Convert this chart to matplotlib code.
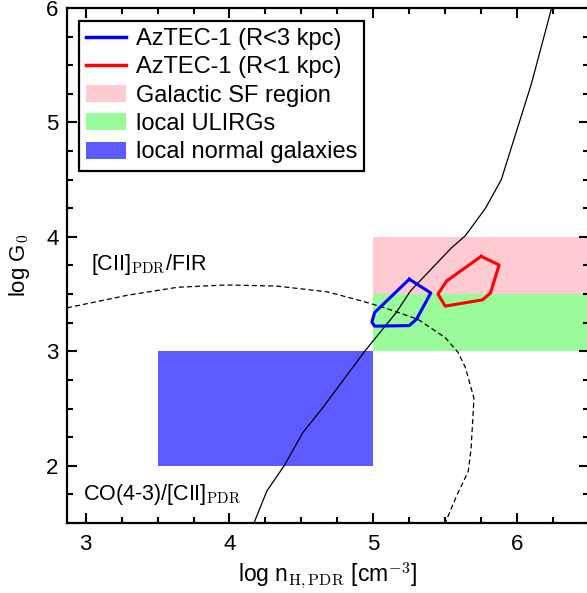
import numpy as np
import matplotlib
matplotlib.use("Agg")
import matplotlib.pyplot as plt
from matplotlib.patches import Rectangle, Patch
from matplotlib.lines import Line2D

plt.rcParams['font.family'] = ['Liberation Sans', 'DejaVu Sans']
plt.rcParams['mathtext.fontset'] = 'cm'

# PDR model tracks
co_cii_x = [4.17, 4.26, 4.38, 4.51, 4.65, 4.94, 5.16, 5.26, 5.54, 5.64, 5.78, 5.89, 6.10, 6.24]
co_cii_y = [1.50, 1.78, 2.00, 2.29, 2.51, 3.00, 3.34, 3.53, 3.90, 4.01, 4.25, 4.50, 5.34, 6.00]

cii_fir_x = [2.87, 3.29, 3.64, 3.98, 4.33, 4.68, 4.92, 5.08, 5.31, 5.50, 5.59, 5.64, 5.70, 5.68, 5.66, 5.58, 5.50]
cii_fir_y = [3.38, 3.49, 3.56, 3.58, 3.57, 3.52, 3.44, 3.38, 3.28, 3.12, 2.99, 2.86, 2.59, 2.15, 1.95, 1.74, 1.50]

# AzTEC-1 solution contours
r3_x = [5.25, 5.40, 5.30, 5.25, 5.01, 4.99, 5.01, 5.25]
r3_y = [3.63, 3.51, 3.28, 3.225, 3.22, 3.255, 3.34, 3.63]
r1_x = [5.75, 5.875, 5.815, 5.76, 5.50, 5.45, 5.51, 5.75]
r1_y = [3.83, 3.755, 3.51, 3.45, 3.395, 3.50, 3.615, 3.83]

# reference regions
regions = ["Galactic SF region", "local ULIRGs", "local normal galaxies"]
reg_x = [(5.0, 6.6), (5.0, 6.6), (3.5, 5.0)]
reg_y = [(3.5, 4.0), (3.0, 3.5), (2.0, 3.0)]
reg_colors = ['#ffcbd3', '#99fb99', '#5b5bff']

fig = plt.figure(figsize=(5.87, 5.93), dpi=100)
ax = fig.add_axes([67/587, 70/593, 522/587, 515/593])

for (x0, x1), (y0, y1), c in zip(reg_x, reg_y, reg_colors):
    ax.add_patch(Rectangle((x0, y0), x1 - x0, y1 - y0, facecolor=c, edgecolor='none', zorder=1))

ax.plot(co_cii_x, co_cii_y, color='k', lw=0.9, zorder=2)
ax.plot(cii_fir_x, cii_fir_y, color='k', lw=0.9, dashes=(4, 2.5), zorder=2)
ax.plot(r3_x, r3_y, color='#0000ff', lw=2.2, zorder=3)
ax.plot(r1_x, r1_y, color='#ff0000', lw=2.2, zorder=3)

ax.text(3.04, 3.71, r'[CII]$_{\rm PDR}$/FIR', fontsize=15.5, va='baseline')
ax.text(2.98, 1.705, r'CO(4-3)/[CII]$_{\rm PDR}$', fontsize=15.5, va='baseline')

ax.set_xlim(2.87, 6.5)
ax.set_ylim(1.5, 6.0)
ax.set_xticks([3, 4, 5, 6])
ax.set_yticks([2, 3, 4, 5, 6])
ax.set_xticks(np.arange(3, 6.51, 0.25), minor=True)
ax.set_yticks(np.arange(1.5, 6.01, 0.25), minor=True)
ax.tick_params(which='both', direction='in', top=True, right=True, width=1.5, labelsize=16)
ax.tick_params(which='major', length=7)
ax.tick_params(which='minor', length=4)
ax.tick_params(axis='x', pad=8)
ax.tick_params(axis='y', pad=6)
for s in ax.spines.values():
    s.set_linewidth(1.6)

ax.set_xlabel(r'log n$_{\rm H,PDR}$ [cm$^{-3}$]', fontsize=16.5, labelpad=4)
ax.set_ylabel(r'log G$_{\mathsf{0}}$', fontsize=16, labelpad=10)

handles = [Line2D([], [], color='#0000ff', lw=2.5),
           Line2D([], [], color='#ff0000', lw=2.5)]
handles += [Patch(facecolor=c, edgecolor='none') for c in reg_colors]
labels = ['AzTEC-1 (R<3 kpc)', 'AzTEC-1 (R<1 kpc)'] + regions
leg = ax.legend(handles, labels, loc='upper left', bbox_to_anchor=(0.023, 0.975),
                borderaxespad=0, fontsize=17, fancybox=False, framealpha=1,
                edgecolor='k', handlelength=1.7, handleheight=0.75,
                handletextpad=0.4, labelspacing=0.27, borderpad=0.3)
leg.get_frame().set_linewidth(1.6)

fig.savefig('out.png', dpi=100)
